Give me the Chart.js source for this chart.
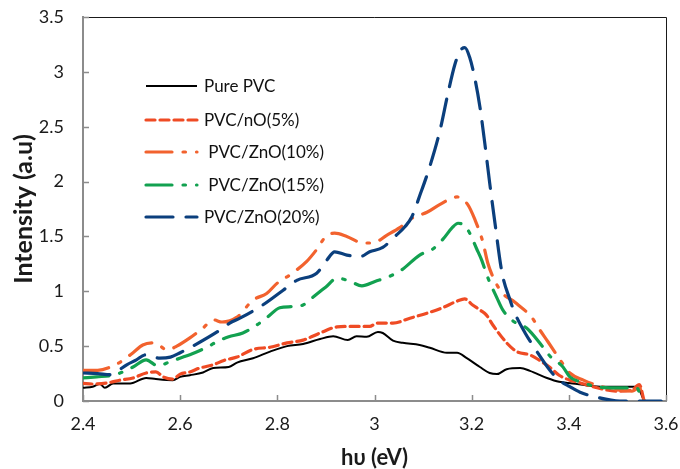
<!DOCTYPE html>
<html>
<head>
<meta charset="utf-8">
<script src="https://cdn.jsdelivr.net/npm/chart.js@4.4.1/dist/chart.umd.min.js"></script>
<style>
html,body{margin:0;padding:0;background:#fff;}
#wrap{width:680px;height:469px;}
</style>
</head>
<body>
<div id="wrap"><canvas id="c" width="680" height="469"></canvas></div>
<script>
const seriesLabels = ["Pure PVC", "PVC/nO(5%)", " PVC/ZnO(10%)", " PVC/ZnO(15%)", "PVC/ZnO(20%)"];
const xTicks = [2.4, 2.6, 2.8, 3.0, 3.2, 3.4, 3.6];
const xTickLabels = ["2.4", "2.6", "2.8", "3", "3.2", "3.4", "3.6"];
const yTicks = [0, 0.5, 1, 1.5, 2, 2.5, 3, 3.5];
const yTickLabels = ["0", "0.5", "1", "1.5", "2", "2.5", "3", "3.5"];

const pureX = [2.40,2.42,2.435,2.445,2.462,2.497,2.53,2.55,2.585,2.60,2.62,2.647,2.668,2.70,2.717,2.75,2.785,2.82,2.853,2.888,2.915,2.945,2.963,2.984,3.007,3.017,3.038,3.058,3.093,3.114,3.149,3.17,3.19,3.217,3.237,3.252,3.272,3.30,3.32,3.355,3.38,3.408,3.44,3.47,3.50,3.54,3.555];
const pureY = [0.12,0.13,0.155,0.12,0.16,0.16,0.21,0.20,0.19,0.22,0.235,0.26,0.30,0.31,0.35,0.39,0.45,0.50,0.52,0.565,0.59,0.555,0.59,0.585,0.63,0.62,0.55,0.53,0.51,0.485,0.44,0.44,0.39,0.31,0.255,0.245,0.29,0.30,0.275,0.21,0.175,0.16,0.14,0.13,0.13,0.13,0];

const zn5X = [2.40,2.42,2.45,2.476,2.503,2.53,2.55,2.565,2.585,2.60,2.62,2.64,2.668,2.69,2.717,2.75,2.785,2.82,2.853,2.888,2.923,2.955,2.99,3.005,3.038,3.073,3.108,3.14,3.17,3.186,3.202,3.217,3.23,3.244,3.272,3.293,3.32,3.34,3.36,3.38,3.402,3.42,3.45,3.50,3.53,3.545,3.555];
const zn5Y = [0.16,0.155,0.165,0.19,0.21,0.255,0.265,0.22,0.20,0.245,0.265,0.30,0.33,0.37,0.40,0.47,0.49,0.53,0.555,0.62,0.675,0.68,0.68,0.71,0.71,0.755,0.80,0.85,0.91,0.93,0.875,0.83,0.785,0.69,0.53,0.45,0.42,0.37,0.31,0.235,0.19,0.17,0.13,0.09,0.10,0.15,0];

const zn10X = [2.40,2.43,2.462,2.482,2.503,2.523,2.548,2.573,2.593,2.62,2.647,2.668,2.686,2.717,2.75,2.778,2.80,2.826,2.86,2.88,2.90,2.918,2.943,2.976,2.997,3.025,3.052,3.079,3.108,3.134,3.17,3.192,3.207,3.223,3.233,3.244,3.262,3.289,3.324,3.34,3.357,3.386,3.402,3.43,3.46,3.50,3.53,3.545,3.555];
const zn10Y = [0.28,0.28,0.32,0.37,0.44,0.51,0.53,0.465,0.50,0.575,0.665,0.74,0.72,0.765,0.92,0.98,1.075,1.15,1.27,1.375,1.50,1.53,1.50,1.44,1.44,1.51,1.58,1.67,1.72,1.79,1.86,1.79,1.65,1.45,1.26,1.13,0.99,0.90,0.76,0.65,0.54,0.35,0.255,0.19,0.14,0.10,0.09,0.12,0];

const zn15X = [2.40,2.428,2.462,2.482,2.503,2.53,2.554,2.58,2.606,2.63,2.655,2.682,2.70,2.729,2.757,2.78,2.805,2.83,2.853,2.877,2.90,2.923,2.95,2.974,3.001,3.028,3.056,3.093,3.12,3.141,3.16,3.172,3.185,3.196,3.21,3.221,3.231,3.252,3.264,3.285,3.313,3.347,3.361,3.388,3.402,3.423,3.457,3.485,3.54,3.55];
const zn15Y = [0.21,0.22,0.235,0.265,0.31,0.375,0.32,0.36,0.40,0.44,0.49,0.555,0.585,0.62,0.69,0.765,0.85,0.86,0.875,0.96,1.04,1.12,1.09,1.05,1.09,1.13,1.195,1.33,1.385,1.475,1.58,1.62,1.60,1.53,1.39,1.28,1.15,0.94,0.83,0.73,0.665,0.49,0.41,0.31,0.22,0.175,0.13,0.12,0.12,0];

const zn20X = [2.40,2.43,2.456,2.47,2.49,2.51,2.528,2.545,2.558,2.58,2.60,2.63,2.676,2.702,2.723,2.77,2.812,2.84,2.881,2.902,2.918,2.943,2.97,2.99,3.017,3.042,3.063,3.077,3.093,3.114,3.135,3.151,3.165,3.176,3.186,3.196,3.207,3.217,3.227,3.237,3.248,3.262,3.279,3.289,3.31,3.33,3.361,3.38,3.402,3.423,3.453,3.505,3.59];
const zn20Y = [0.255,0.25,0.24,0.27,0.33,0.375,0.42,0.40,0.39,0.40,0.44,0.51,0.63,0.71,0.755,0.875,1.01,1.10,1.165,1.285,1.36,1.33,1.315,1.36,1.40,1.50,1.59,1.68,1.87,2.14,2.47,2.80,3.06,3.19,3.22,3.13,2.93,2.68,2.35,1.99,1.62,1.18,0.92,0.80,0.62,0.48,0.28,0.19,0.13,0.08,0.04,0,0];

const pts = (xs, ys) => xs.map((x, i) => ({x: x, y: ys[i]}));

const FONT = "Lato, 'Open Sans', sans-serif";

const styles = [
  {color: '#000000', dash: [], width: 2},
  {color: '#EF4B24', dash: [9, 5], width: 3.2},
  {color: '#F2622E', dash: [26, 11, 2.5, 11], width: 3.2},
  {color: '#12A150', dash: [26, 11, 2.5, 11], width: 3.2},
  {color: '#0B3F7D', dash: [27, 13], width: 3.2}
];
const dataPairs = [[pureX, pureY], [zn5X, zn5Y], [zn10X, zn10Y], [zn15X, zn15Y], [zn20X, zn20Y]];

const datasets = dataPairs.map((p, i) => ({
  label: seriesLabels[i],
  data: pts(p[0], p[1]),
  borderColor: styles[i].color,
  backgroundColor: styles[i].color,
  borderDash: styles[i].dash,
  borderWidth: styles[i].width,
  borderCapStyle: i === 0 ? 'butt' : 'round',
  pointRadius: 0,
  cubicInterpolationMode: 'monotone',
  fill: false,
  order: 5 - i
}));

const framePlugin = {
  id: 'frame',
  afterDraw(chart) {
    const {ctx, chartArea: a, scales} = chart;
    ctx.save();
    ctx.strokeStyle = '#1a1a1a';
    ctx.lineWidth = 1;
    ctx.beginPath();
    ctx.moveTo(a.left, a.top + 0.5);
    ctx.lineTo(a.right + 0.5, a.top + 0.5);
    ctx.lineTo(a.right + 0.5, a.bottom);
    ctx.stroke();
    ctx.strokeStyle = '#8c8c8c';
    ctx.lineWidth = 1.5;
    ctx.beginPath();
    xTicks.forEach(v => {
      const px = Math.round(scales.x.getPixelForValue(v)) + 0.5;
      ctx.moveTo(px, a.bottom);
      ctx.lineTo(px, a.bottom - 6);
    });
    yTicks.forEach(v => {
      const py = Math.round(scales.y.getPixelForValue(v)) + 0.5;
      ctx.moveTo(a.left, py);
      ctx.lineTo(a.left + 6, py);
    });
    ctx.stroke();
    const rows = [86, 120, 152, 185, 217];
    chart.data.datasets.forEach((ds, i) => {
      const y = rows[i];
      ctx.strokeStyle = ds.borderColor;
      ctx.lineWidth = ds.borderWidth;
      ctx.lineCap = ds.borderCapStyle;
      ctx.setLineDash(ds.borderDash);
      ctx.beginPath();
      ctx.moveTo(146, y);
      ctx.lineTo(197, y);
      ctx.stroke();
      ctx.setLineDash([]);
      ctx.fillStyle = '#111';
      ctx.font = "17px " + FONT;
      ctx.textBaseline = 'middle';
      ctx.textAlign = 'left';
      ctx.fillText(ds.label, 204, y + 1);
    });
    ctx.restore();
  }
};

new Chart(document.getElementById('c'), {
  type: 'line',
  data: {datasets: datasets},
  options: {
    responsive: false,
    animation: false,
    layout: {padding: {left: 0, right: 14, top: 17, bottom: 0}},
    plugins: {legend: {display: false}, tooltip: {enabled: false}},
    scales: {
      x: {
        type: 'linear', min: 2.4, max: 3.6,
        afterBuildTicks: s => { s.ticks = xTicks.map(v => ({value: v})); },
        afterFit: s => { s.height = 68; s.paddingLeft = 0; s.paddingRight = 0; },
        grid: {display: true, drawOnChartArea: false, drawTicks: false},
        border: {display: true, color: '#8c8c8c', width: 2},
        ticks: {
          padding: 12, color: '#1a1a1a', maxRotation: 0,
          font: {family: FONT, size: 18},
          callback: (v, i) => xTickLabels[i]
        },
        title: {display: true, text: 'hυ (eV)', color: '#1a1a1a', padding: {top: 0, bottom: -2},
          font: {family: FONT, size: 22, weight: 'bold'}}
      },
      y: {
        type: 'linear', min: 0, max: 3.5,
        afterBuildTicks: s => { s.ticks = yTicks.map(v => ({value: v})); },
        afterFit: s => { s.width = 83; s.paddingTop = 0; s.paddingBottom = 0; },
        grid: {display: true, drawOnChartArea: false, drawTicks: false},
        border: {display: true, color: '#8c8c8c', width: 2},
        ticks: {
          padding: 19, color: '#1a1a1a',
          font: {family: FONT, size: 18},
          callback: (v, i) => yTickLabels[i]
        },
        title: {display: true, text: 'Intensity (a.u)', color: '#1a1a1a', padding: {top: 9, bottom: 0},
          font: {family: FONT, size: 25, weight: 'bold'}}
      }
    }
  },
  plugins: [framePlugin]
});
</script>
</body>
</html>
